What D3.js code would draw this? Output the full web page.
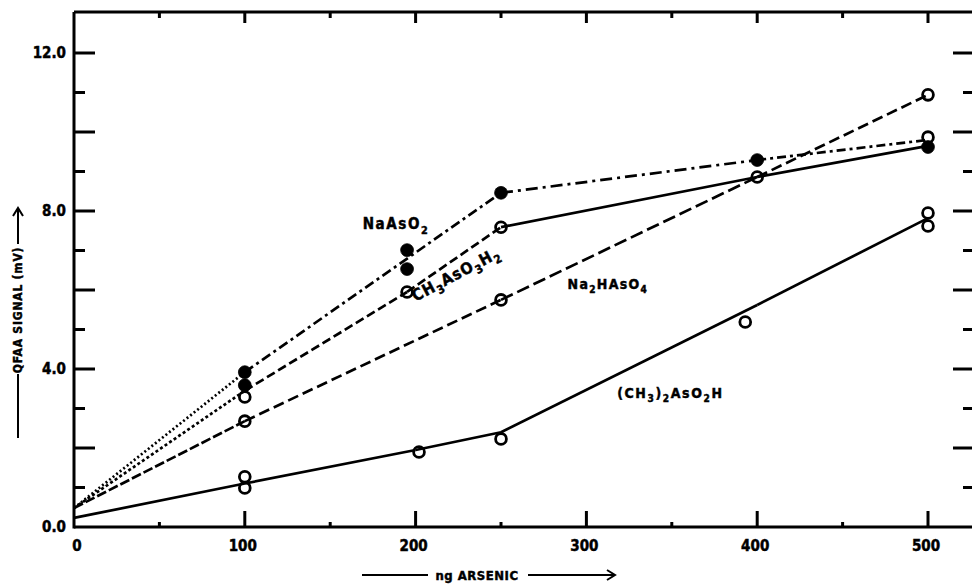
<!DOCTYPE html>
<html>
<head>
<meta charset="utf-8">
<script src="https://cdn.jsdelivr.net/npm/d3@7"></script>
<style>
  html, body { margin: 0; padding: 0; background: #fff; }
  svg { display: block; }
  text { font-family: "DejaVu Sans Condensed", "DejaVu Sans", sans-serif; font-weight: bold; fill: #000; stroke: #000; stroke-width: 0.45px; }
</style>
</head>
<body>
<svg id="chart" width="972" height="586"></svg>
<script>
// ---- data: arsenic mass (ng) vs. QFAA signal (mV) ----
const xTickValues = [0, 100, 200, 300, 400, 500];
const xTickLabels = ["0", "100", "200", "300", "400", "500"];
const yTickValues = [0, 4, 8, 12];
const yTickLabels = ["0.0", "4.0", "8.0", "12.0"];

const seriesNames = ["NaAsO_2", "CH_3AsO_3H_2", "Na_2HAsO_4", "(CH_3)_2AsO_2H"];

// measured points
const naAsO2Points    = [[100, 3.92], [100, 3.59], [195, 7.01], [195, 6.53], [250, 8.46], [400, 9.29], [500, 9.62]];
const ch3AsO3H2Points = [[100, 3.29], [195, 5.95], [250, 7.59], [500, 9.87]];
const na2HAsO4Points  = [[100, 2.68], [250, 5.75], [400, 8.86], [500, 10.94]];
const ch32AsO2HPoints = [[100, 1.27], [100, 0.99], [202, 1.90], [250, 2.23], [393, 5.19], [500, 7.95], [500, 7.62]];

// drawn response curves
const naAsO2Curve    = [[0, 0.48], [100, 3.92], [250, 8.46], [400, 9.29], [500, 9.80]];
const ch3AsO3H2Curve = [[0, 0.48], [100, 3.45], [195, 5.95], [250, 7.59], [400, 8.86], [500, 9.65]];
const na2HAsO4Curve  = [[0, 0.48], [100, 2.68], [250, 5.75], [400, 8.86], [500, 10.94]];
const ch32AsO2HCurve = [[0, 0.23], [100, 1.10], [200, 1.95], [250, 2.40], [400, 5.62], [500, 7.82]];

// ---- presentation ----
const series = [
  { points: naAsO2Points,    curve: naAsO2Curve,    filled: true,
    dashes: ["2,2.5", "10,4,3,4", "12,5,3,5", "9,4,3,4"] },
  { points: ch3AsO3H2Points, curve: ch3AsO3H2Curve, filled: false,
    dashes: ["3,2.5", "9,4", "9,4", null, null] },
  { points: na2HAsO4Points,  curve: na2HAsO4Curve,  filled: false,
    dashes: ["10,3", "11,5", "13,5", "11,5"] },
  { points: ch32AsO2HPoints, curve: ch32AsO2HCurve, filled: false,
    dashes: [null, null, null, null, null] }
];

// label anchors in data units
const labelPlacement = [
  { x: 169, y: 7.54, rotate: 0,   size: 15, spacing: 1.6 },
  { x: 200, y: 5.70, rotate: -28, size: 16, spacing: 1.0 },
  { x: 289, y: 6.03, rotate: 0,   size: 14, spacing: 1.3 },
  { x: 318, y: 3.27, rotate: 0,   size: 14, spacing: 1.6 }
];

const svg = d3.select("#chart");
const x = d3.scaleLinear().domain([0, 500]).range([74, 928]);
const y = d3.scaleLinear().domain([0, 12]).range([527, 53]);

const ink = "#000";
const frameTop = 12, frameRight = 976;

// frame lines
const frame = svg.append("g").attr("stroke", ink).attr("stroke-width", 3).attr("fill", "none");
frame.append("line").attr("x1", x(0)).attr("x2", frameRight).attr("y1", y(0)).attr("y2", y(0));
frame.append("line").attr("x1", x(0)).attr("x2", frameRight).attr("y1", frameTop).attr("y2", frameTop);
frame.append("line").attr("x1", x(0)).attr("x2", x(0)).attr("y1", frameTop).attr("y2", y(0) + 1.5);
frame.append("line").attr("x1", frameRight).attr("x2", frameRight).attr("y1", frameTop).attr("y2", y(0));

// y ticks: every 1 mV, long at even values, on both sides pointing inward
const yAll = d3.range(0, 13);
const ticks = svg.append("g").attr("stroke", ink).attr("stroke-width", 3);
ticks.selectAll(".ytl").data(yAll.filter(v => v > 0)).join("line")
  .attr("x1", x(0)).attr("x2", v => x(0) + (v % 2 === 0 ? 21 : 11))
  .attr("y1", v => y(v)).attr("y2", v => y(v));
ticks.selectAll(".ytr").data(yAll.filter(v => v > 0)).join("line")
  .attr("x1", frameRight).attr("x2", v => frameRight - (v % 2 === 0 ? 23 : 13))
  .attr("y1", v => y(v)).attr("y2", v => y(v));

// x ticks: every 50 ng, long at hundreds, bottom and top pointing inward
const xAll = d3.range(50, 501, 50);
ticks.selectAll(".xtb").data(xAll).join("line")
  .attr("x1", v => x(v)).attr("x2", v => x(v))
  .attr("y1", y(0)).attr("y2", v => y(0) - (v % 100 === 0 ? 16 : 5));
ticks.selectAll(".xtt").data(xAll).join("line")
  .attr("x1", v => x(v)).attr("x2", v => x(v))
  .attr("y1", frameTop).attr("y2", v => frameTop + (v % 100 === 0 ? 11 : 6));

// tick labels
svg.append("g").selectAll("text").data(yTickValues).join("text")
  .attr("x", 66).attr("y", v => y(v)).attr("dy", "0.36em")
  .attr("text-anchor", "end").attr("font-size", 15)
  .text((v, i) => yTickLabels[i]);
svg.append("g").selectAll("text").data(xTickValues).join("text")
  .attr("x", v => x(v) + (v === 0 ? 3 : -2)).attr("y", 551)
  .attr("text-anchor", "middle").attr("font-size", 15)
  .text((v, i) => xTickLabels[i]);

// chemical formula text with subscripts ("_" marks the next char as subscript)
function formula(sel, str, size) {
  let i = 0, sub = false;
  while (i < str.length) {
    if (str[i] === "_") {
      sel.append("tspan").attr("dy", size * 0.3).attr("font-size", size * 0.72).text(str[i + 1]);
      sub = true;
      i += 2;
    } else {
      let run = "";
      while (i < str.length && str[i] !== "_") { run += str[i]; i++; }
      sel.append("tspan").attr("dy", sub ? -size * 0.3 : 0).text(run);
      sub = false;
    }
  }
}

// curves, drawn segment by segment with their own dash patterns
const lineGen = d3.line().x(d => x(d[0])).y(d => y(d[1]));
series.forEach(s => {
  const g = svg.append("g").attr("fill", "none").attr("stroke", ink)
    .attr("stroke-width", 2.7).attr("stroke-linecap", "butt");
  d3.pairs(s.curve).forEach((seg, k) => {
    const p = g.append("path").attr("d", lineGen(seg));
    if (s.dashes[k]) p.attr("stroke-dasharray", s.dashes[k]);
  });
});

// markers
series.forEach(s => {
  svg.append("g").selectAll("circle").data(s.points).join("circle")
    .attr("cx", d => x(d[0])).attr("cy", d => y(d[1]))
    .attr("r", s.filled ? 6.4 : 5.4)
    .attr("fill", s.filled ? ink : "none")
    .attr("stroke", ink).attr("stroke-width", s.filled ? 0.8 : 2.8);
});

// series labels
seriesNames.forEach((name, i) => {
  const L = labelPlacement[i];
  const t = svg.append("text")
    .attr("transform", `translate(${x(L.x)},${y(L.y)}) rotate(${L.rotate})`)
    .attr("font-size", L.size).attr("letter-spacing", L.spacing);
  formula(t, name, L.size);
});

// axis titles with arrows
const titleSize = 12;
svg.append("text").attr("x", 477).attr("y", 580).attr("text-anchor", "middle")
  .attr("font-size", 13).attr("letter-spacing", 0.5).text("ng ARSENIC");
const arr = svg.append("g").attr("stroke", ink).attr("stroke-width", 2).attr("fill", "none");
arr.append("line").attr("x1", 362).attr("x2", 428).attr("y1", 575).attr("y2", 575);
arr.append("line").attr("x1", 528).attr("x2", 614).attr("y1", 575).attr("y2", 575);
arr.append("path").attr("d", "M607,570 L615,575 L607,580");

const yt = svg.append("g").attr("transform", "translate(18,0)");
yt.append("text").attr("transform", "translate(4,310) rotate(-90)")
  .attr("text-anchor", "middle").attr("font-size", titleSize).attr("letter-spacing", 0.8)
  .text("QFAA SIGNAL (mV)");
const ya = yt.append("g").attr("stroke", ink).attr("stroke-width", 2).attr("fill", "none");
ya.append("line").attr("x1", 0).attr("x2", 0).attr("y1", 374).attr("y2", 438);
ya.append("line").attr("x1", 0).attr("x2", 0).attr("y1", 244).attr("y2", 209);
ya.append("path").attr("d", "M-5,216 L0,208 L5,216");
</script>
</body>
</html>
